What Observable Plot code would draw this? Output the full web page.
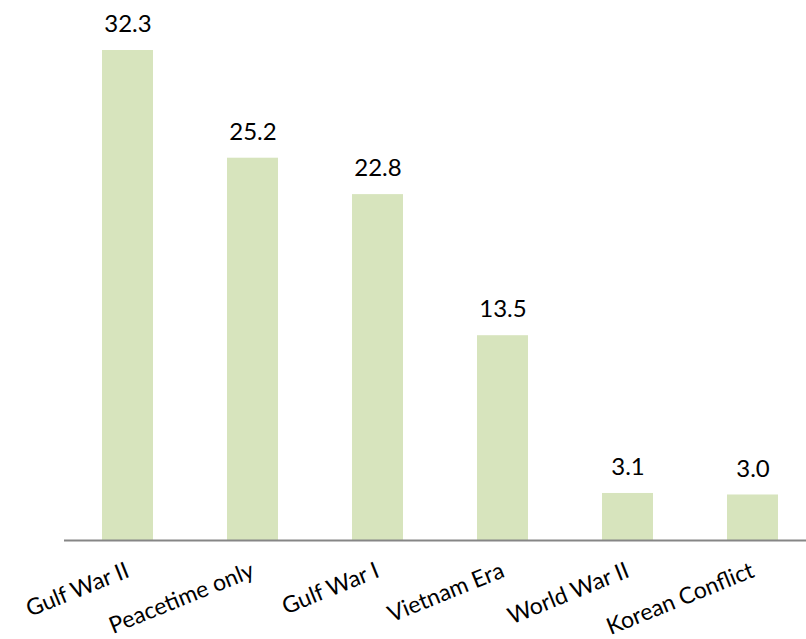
<!DOCTYPE html>
<html>
<head>
<meta charset="utf-8">
<script src="https://cdn.jsdelivr.net/npm/d3@7"></script>
<script src="https://cdn.jsdelivr.net/npm/@observablehq/plot@0.6"></script>
<style>
  html, body { margin: 0; padding: 0; background: #fff; overflow: hidden; }
</style>
</head>
<body>
<div id="chart"></div>
<script>
const categories = ["Gulf War II", "Peacetime only", "Gulf War I", "Vietnam Era", "World War II", "Korean Conflict"];
const values = [32.3, 25.2, 22.8, 13.5, 3.1, 3.0];
const valueLabels = ["32.3", "25.2", "22.8", "13.5", "3.1", "3.0"];

const data = categories.map((c, i) => ({category: c, value: values[i], label: valueLabels[i]}));

const chart = Plot.plot({
  width: 806,
  height: 639,
  marginTop: 0,
  marginLeft: 64,
  marginRight: 0,
  marginBottom: 99,
  style: {fontFamily: "Lato, 'Open Sans', sans-serif", background: "#fff"},
  x: {domain: categories, range: [64, 816], paddingInner: 0.595, paddingOuter: 0.2975, axis: null},
  y: {domain: [0, 32.3], range: [540, 50], axis: null},
  marks: [
    Plot.barY(data, {x: "category", y: "value", fill: "#d7e4bd"}),
    Plot.ruleY([0], {stroke: "#868686", strokeWidth: 2}),
    Plot.text(data, {x: "category", y: "value", text: "label", dy: -26, fontSize: 24, fill: "#000", lineAnchor: "middle"}),
    Plot.text(data, {x: "category", y: 0, text: "category", dy: 29, dx: 0, rotate: -22, textAnchor: "end", lineAnchor: "middle", fontSize: 23, fill: "#000"})
  ]
});
document.getElementById("chart").appendChild(chart);
</script>
</body>
</html>
